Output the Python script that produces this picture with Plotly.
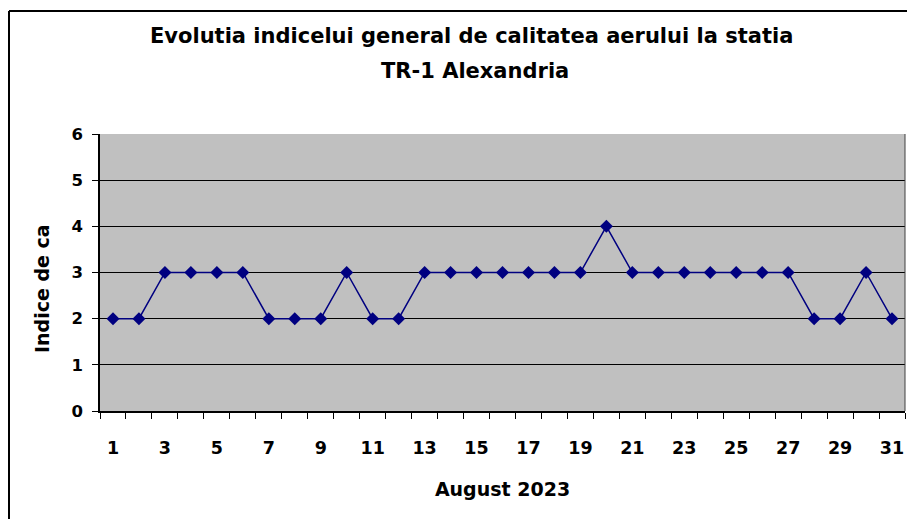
import plotly.graph_objects as go

days = list(range(1, 32))
values = [2, 2, 3, 3, 3, 3, 2, 2, 2, 3, 2, 2, 3, 3, 3, 3, 3, 3, 3, 4,
          3, 3, 3, 3, 3, 3, 3, 2, 2, 3, 2]
x_tick_labels = [str(d) for d in range(1, 32, 2)]
y_ticks = [0, 1, 2, 3, 4, 5, 6]
title_line1 = "Evolutia indicelui general de calitatea aerului la statia"
title_line2 = "TR-1 Alexandria"
x_title = "August 2023"
y_title = "Indice de ca"

FONT = "DejaVu Sans, Arial, sans-serif"

fig = go.Figure()
fig.add_trace(go.Scatter(
    x=days, y=values, mode="lines+markers",
    line=dict(color="#000080", width=1.5),
    marker=dict(symbol="diamond", size=10, color="#000080"),
    showlegend=False, cliponaxis=False, hoverinfo="skip",
))

W, H = 907, 519
L, R, T, B = 100, 2, 134, 108
pw = W - L - R
ph = H - T - B
def px_x(p):
    return (p - L) / pw
def px_y(p):
    return (H - B - p) / ph

fig.update_layout(
    width=W, height=H,
    margin=dict(l=L, r=R, t=T, b=B, pad=0, autoexpand=False),
    paper_bgcolor="white", plot_bgcolor="#C0C0C0",
    font=dict(family=FONT, color="black"),
    xaxis=dict(
        range=[0.5, 31.5], tickmode="array",
        tickvals=[int(t) for t in x_tick_labels], ticktext=x_tick_labels,
        ticks="", showgrid=False, zeroline=False,
        showline=True, linecolor="black", linewidth=1.5,
        tickfont=dict(size=17.5, family=FONT, weight="bold"),
        ticklabelstandoff=20,
        minor=dict(ticks="outside", tick0=0.5, dtick=1, ticklen=6,
                   tickcolor="black", tickwidth=1, showgrid=False),
        title=dict(text="<b>" + x_title + "</b>", font=dict(size=19, family=FONT), standoff=26),
    ),
    yaxis=dict(
        range=[0, 6], tickmode="array", tickvals=y_ticks,
        ticks="outside", ticklen=6, tickcolor="black", tickwidth=1,
        showgrid=True, gridcolor="black", gridwidth=1.2,
        zeroline=False, showline=True, linecolor="black", linewidth=1.5,
        tickfont=dict(size=16.5, family=FONT, weight="bold"),
        ticklabelstandoff=6,
    ),
    annotations=[
        dict(text="<b>" + title_line1 + "</b>", xref="paper", yref="paper",
             x=px_x(471), y=px_y(36),
             xanchor="center", yanchor="middle", showarrow=False,
             font=dict(size=21, family=FONT, color="black")),
        dict(text="<b>" + title_line2 + "</b>", xref="paper", yref="paper",
             x=px_x(475), y=px_y(71),
             xanchor="center", yanchor="middle", showarrow=False,
             font=dict(size=21, family=FONT, color="black")),
        dict(text="<b>" + y_title + "</b>", xref="paper", yref="paper",
             x=px_x(42), y=px_y(289), textangle=-90,
             xanchor="center", yanchor="middle", showarrow=False,
             font=dict(size=19, family=FONT, color="black")),
    ],
)

shapes = [
    dict(type="line", xref="paper", yref="paper", x0=px_x(9), x1=px_x(9),
         y0=px_y(11), y1=px_y(H + 5), line=dict(color="black", width=2)),
    dict(type="line", xref="paper", yref="paper", x0=px_x(9), x1=px_x(W + 5),
         y0=px_y(11), y1=px_y(11), line=dict(color="black", width=2)),
    dict(type="line", xref="paper", yref="paper", x0=1, x1=1, y0=0, y1=1,
         line=dict(color="#404040", width=1)),
]
fig.update_layout(shapes=shapes)

fig.write_html("out.html", config={"displayModeBar": False},
               post_script="document.body.style.margin='0px';")
